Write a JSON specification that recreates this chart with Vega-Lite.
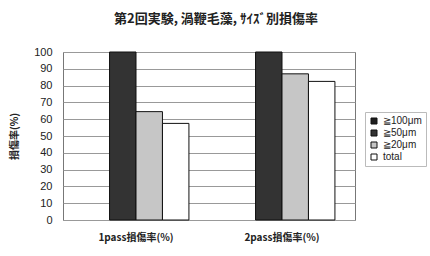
{
  "$schema": "https://vega.github.io/schema/vega-lite/v6.json",
  "width": 292,
  "height": 168,
  "autosize": "none",
  "padding": {"left": 63, "top": 52, "right": 75, "bottom": 36},
  "background": "white",
  "title": {
    "text": "第2回実験, 渦鞭毛藻, ｻｲｽﾞ別損傷率",
    "font": "Noto Sans CJK JP",
    "fontSize": 13,
    "fontWeight": "bold",
    "color": "#222",
    "anchor": "middle",
    "offset": 20,
    "dx": 7
  },
  "data": {
    "values": [
      {"pass": "1pass損傷率(%)", "size": "≧100μm", "rate": null},
      {"pass": "1pass損傷率(%)", "size": "≧50μm", "rate": 100},
      {"pass": "1pass損傷率(%)", "size": "≧20μm", "rate": 64.5},
      {"pass": "1pass損傷率(%)", "size": "total", "rate": 57.5},
      {"pass": "2pass損傷率(%)", "size": "≧100μm", "rate": null},
      {"pass": "2pass損傷率(%)", "size": "≧50μm", "rate": 100},
      {"pass": "2pass損傷率(%)", "size": "≧20μm", "rate": 87},
      {"pass": "2pass損傷率(%)", "size": "total", "rate": 82.5}
    ]
  },
  "mark": {"type": "bar", "stroke": "#111", "strokeWidth": 1},
  "encoding": {
    "x": {
      "field": "pass",
      "type": "nominal",
      "scale": {"paddingInner": 0.275, "paddingOuter": 0.1375},
      "axis": {
        "title": null,
        "labelAngle": 0,
        "ticks": false,
        "domain": false,
        "labelPadding": 12,
        "labelFont": "Noto Sans CJK JP",
        "labelFontSize": 10,
        "labelFontWeight": "bold",
        "labelColor": "#222"
      }
    },
    "xOffset": {
      "field": "size",
      "type": "nominal",
      "sort": ["≧100μm", "≧50μm", "≧20μm", "total"],
      "scale": {"domain": ["≧100μm", "≧50μm", "≧20μm", "total"], "paddingInner": 0, "paddingOuter": 0}
    },
    "y": {
      "field": "rate",
      "type": "quantitative",
      "scale": {"domain": [0, 100]},
      "axis": {
        "title": "損傷率(%)",
        "titleFont": "Noto Sans CJK JP",
        "titleFontSize": 10,
        "titleFontWeight": "bold",
        "titleColor": "#222",
        "titlePadding": 14,
        "values": [0, 10, 20, 30, 40, 50, 60, 70, 80, 90, 100],
        "ticks": false,
        "domain": false,
        "labelPadding": 11,
        "labelFont": "Liberation Sans",
        "labelFontSize": 11,
        "labelColor": "#222",
        "gridColor": "#999",
        "gridWidth": 1
      }
    },
    "fill": {
      "field": "size",
      "type": "nominal",
      "sort": ["≧100μm", "≧50μm", "≧20μm", "total"],
      "scale": {
        "domain": ["≧100μm", "≧50μm", "≧20μm", "total"],
        "range": ["#1e1e1e", "#333333", "#c6c6c6", "#ffffff"]
      },
      "legend": {
        "title": null,
        "orient": "none",
        "legendX": 302,
        "legendY": 60,
        "symbolType": "square",
        "symbolSize": 36,
        "symbolStrokeColor": "#111",
        "symbolStrokeWidth": 1,
        "labelFont": "Liberation Sans",
        "labelFontSize": 10,
        "labelColor": "#222",
        "rowPadding": 2,
        "padding": 4,
        "strokeColor": "#bbb",
        "fillColor": "white"
      }
    }
  },
  "config": {
    "view": {"stroke": "#777", "strokeWidth": 1}
  }
}
